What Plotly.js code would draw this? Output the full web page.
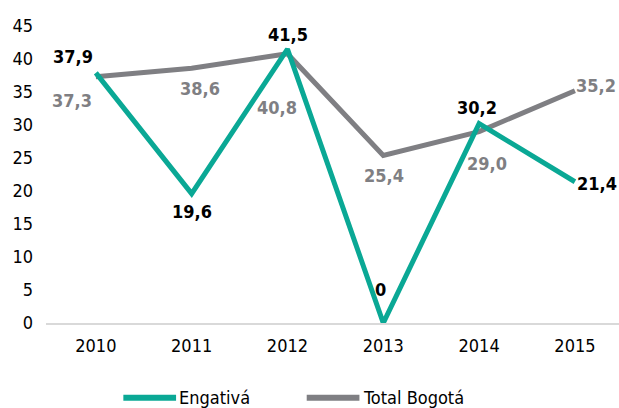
<!DOCTYPE html>
<html>
<head>
<meta charset="utf-8">
<script src="https://cdn.plot.ly/plotly-3.0.1.min.js"></script>
<style>html,body{margin:0;padding:0;background:#fff;}#chart{width:619px;height:408px;}</style>
</head>
<body>
<div id="chart"></div>
<script>
const years = ['2010','2011','2012','2013','2014','2015'];
const engativa = [37.9, 19.6, 41.5, 0, 30.2, 21.4];
const bogota = [37.3, 38.6, 40.8, 25.4, 29.0, 35.2];
const seriesNames = ['Engativá', 'Total Bogotá'];
const yTicks = [0, 5, 10, 15, 20, 25, 30, 35, 40, 45];

const FONT = '"Liberation Sans Narrow", "DejaVu Sans Condensed", "Roboto Condensed", sans-serif';
const TEAL = '#0aa895';
const GREY = '#7f7f83';

function fmt(v) { return v === 0 ? '0' : v.toFixed(1).replace('.', ','); }

// label offsets (pixels) per point
const engOff = [[-23, 16], [0, -18], [1, 15], [-3, 34], [-2, 16], [22, -2]];
const bogOff = [[-24, -24], [8, -20], [-10, -54], [1, -20], [8, -32], [21, 5]];

const annotations = [];
engativa.forEach((v, i) => annotations.push({
  x: i, y: v, xref: 'x', yref: 'y', text: '<b>' + fmt(v) + '</b>', showarrow: false,
  xshift: engOff[i][0], yshift: engOff[i][1], font: {family: FONT, size: 18, color: '#000'}
}));
bogota.forEach((v, i) => annotations.push({
  x: i, y: v, xref: 'x', yref: 'y', text: '<b>' + fmt(v) + '</b>', showarrow: false,
  xshift: bogOff[i][0], yshift: bogOff[i][1], font: {family: FONT, size: 18, color: GREY}
}));
// manual legend text
annotations.push({xref: 'paper', yref: 'paper', x: 0.228, y: -0.25, xanchor: 'left', yanchor: 'middle',
  text: seriesNames[0], showarrow: false, font: {family: FONT, size: 18, color: '#000'}});
annotations.push({xref: 'paper', yref: 'paper', x: 0.549, y: -0.25, xanchor: 'left', yanchor: 'middle',
  text: seriesNames[1], showarrow: false, font: {family: FONT, size: 18, color: '#000'}});

const shapes = [
  {type: 'line', xref: 'paper', yref: 'paper', x0: 0.135, x1: 0.227, y0: -0.252, y1: -0.252, line: {color: TEAL, width: 6}},
  {type: 'line', xref: 'paper', yref: 'paper', x0: 0.455, x1: 0.547, y0: -0.252, y1: -0.252, line: {color: GREY, width: 6}}
];

const traces = [
  {x: years, y: bogota, name: seriesNames[1], type: 'scatter', mode: 'lines', line: {color: GREY, width: 5}},
  {x: years, y: engativa, name: seriesNames[0], type: 'scatter', mode: 'lines', line: {color: TEAL, width: 5}}
];

const layout = {
  width: 619, height: 408,
  margin: {l: 46, r: 0, t: 26, b: 85},
  paper_bgcolor: '#fff', plot_bgcolor: '#fff',
  showlegend: false,
  font: {family: FONT, size: 17, color: '#000'},
  xaxis: {type: 'category', range: [-0.52, 5.46], showgrid: false, zeroline: false,
          showline: true, linecolor: '#d9d9d9', linewidth: 1.5, ticks: '', ticklabelstandoff: 6,
          tickfont: {family: FONT, size: 18, color: '#000'}},
  yaxis: {range: [0, 45], tickvals: yTicks, showgrid: false, zeroline: false, showline: false, ticks: '',
          ticklabelstandoff: 12, tickfont: {family: FONT, size: 18, color: '#000'}},
  annotations: annotations,
  shapes: shapes
};

Plotly.newPlot('chart', traces, layout, {displayModeBar: false, staticPlot: true});
</script>
</body>
</html>
